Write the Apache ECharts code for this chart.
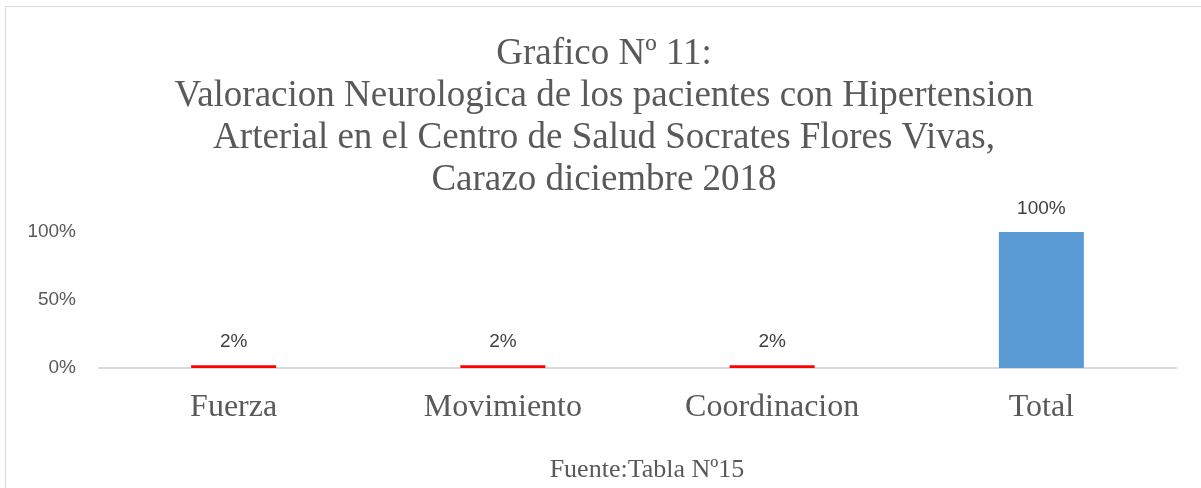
<!DOCTYPE html>
<html>
<head>
<meta charset="utf-8">
<script src="https://cdn.jsdelivr.net/npm/echarts@6/dist/echarts.min.js"></script>
<style>
  html, body { margin: 0; padding: 0; background: #fff; }
  #chart { width: 1201px; height: 488px; }
</style>
</head>
<body>
<div id="chart"></div>
<script>
const categories = ['Fuerza', 'Movimiento', 'Coordinacion', 'Total']
const values = [2, 2, 2, 100]
const barColors = ['#ff0000', '#ff0000', '#ff0000', '#5b9bd5']
const yTicks = [0, 50, 100]

const titleText = 'Grafico Nº 11:\nValoracion Neurologica de los pacientes con Hipertension\nArterial en el Centro de Salud Socrates Flores Vivas,\nCarazo diciembre 2018'
const sourceText = 'Fuente:Tabla Nº15'

const chart = echarts.init(document.getElementById('chart'))

chart.setOption({
  animation: false,
  title: {
    text: titleText,
    left: 599,
    top: 28,
    textAlign: 'center',
    textStyle: {
      fontFamily: 'Liberation Serif',
      fontSize: 37,
      fontWeight: 'normal',
      lineHeight: 42,
      color: '#595959',
    },
  },
  graphic: [
    {
      type: 'rect',
      shape: { x: 5.5, y: 6.5, width: 1300, height: 600 },
      style: { fill: 'none', stroke: '#d9d9d9', lineWidth: 1 },
      silent: true,
    },
    {
      type: 'text',
      x: 647,
      y: 470,
      style: {
        text: sourceText,
        font: '26px "Liberation Serif"',
        fill: '#595959',
        align: 'center',
        verticalAlign: 'middle',
      },
    },
  ],
  grid: {
    left: 99,
    right: 25,
    top: 232,
    bottom: 120,
    containLabel: false,
  },
  xAxis: {
    type: 'category',
    data: categories,
    axisLine: { lineStyle: { color: '#d9d9d9', width: 2 } },
    axisTick: { show: false },
    axisLabel: {
      margin: 24,
      fontFamily: 'Liberation Serif',
      fontSize: 32,
      color: '#595959',
    },
  },
  yAxis: {
    type: 'value',
    min: yTicks[0],
    max: yTicks[yTicks.length - 1],
    interval: yTicks[1] - yTicks[0],
    axisLine: { show: false },
    axisTick: { show: false },
    splitLine: { show: false },
    axisLabel: {
      margin: 23,
      padding: [4, 0, 0, 0],
      fontFamily: 'Liberation Sans',
      fontSize: 19,
      color: '#595959',
      formatter: '{value}%',
    },
  },
  series: [
    {
      type: 'bar',
      data: values.map((v, i) => ({ value: v, itemStyle: { color: barColors[i] } })),
      barWidth: 85,
      label: {
        show: true,
        position: 'top',
        distance: 14,
        fontFamily: 'Liberation Sans',
        fontSize: 19,
        color: '#404040',
        formatter: '{c}%',
      },
    },
  ],
})

window.addEventListener('resize', () => chart.resize())
</script>
</body>
</html>
